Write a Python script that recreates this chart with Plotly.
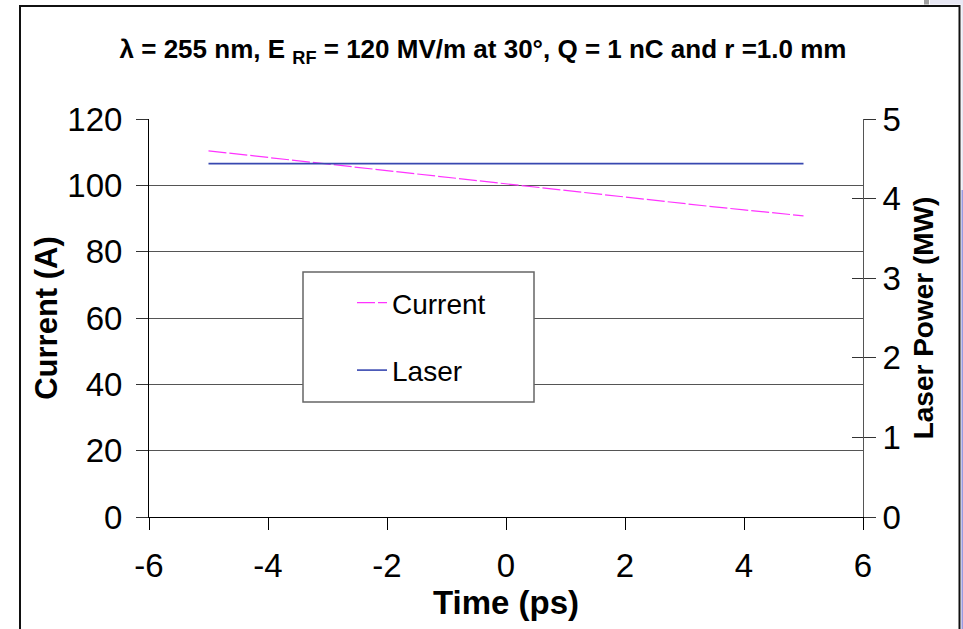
import plotly.graph_objects as go

# ---- data ----
time_ps = [-5, -4.5, -4, -3.5, -3, -2.5, -2, -1.5, -1, -0.5, 0,
           0.5, 1, 1.5, 2, 2.5, 3, 3.5, 4, 4.5, 5]
current_A = [110.4, 109.4, 108.5, 107.5, 106.5, 105.5, 104.4, 103.4, 102.4, 101.3, 100.3,
             99.3, 98.3, 97.3, 96.4, 95.4, 94.4, 93.5, 92.6, 91.7, 90.8]
laser_time = [-5, 5]
laser_MW = [4.44, 4.44]

x_ticks = [-6, -4, -2, 0, 2, 4, 6]
x_ticktext = ["-6", "-4", "-2", "0", "2", "4", "6"]
y_ticks = [0, 20, 40, 60, 80, 100, 120]
y2_ticks = [0, 1, 2, 3, 4, 5]

W, H = 963, 629
L, R, T, B = 149, 863, 119, 517


def px(x):
    return (x - L) / (R - L)


def py(y):
    return (B - y) / (B - T)


FONT = "Liberation Sans, Arial, sans-serif"

fig = go.Figure()
fig.add_trace(go.Scatter(x=time_ps, y=current_A, mode="lines", name="Current",
                         line=dict(color="#FF33FF", width=1.2, dash="18px,3px"),
                         yaxis="y"))
fig.add_trace(go.Scatter(x=laser_time, y=laser_MW, mode="lines", name="Laser",
                         line=dict(color="#3848B0", width=1.6), yaxis="y2",
                         legendgroup="b"))
fig.add_trace(go.Scatter(x=[None], y=[None], yaxis="y3", showlegend=False))

fig.update_layout(
    width=W, height=H,
    margin=dict(l=L, r=W - R, t=T, b=H - B, autoexpand=False),
    paper_bgcolor="white", plot_bgcolor="white",
    font=dict(family=FONT, color="black", size=30),
    showlegend=True,
    legend=dict(x=px(352), y=py(278), xanchor="left", yanchor="top",
                bgcolor="rgba(0,0,0,0)", borderwidth=0,
                font=dict(size=28), tracegroupgap=28),
    xaxis=dict(range=[-6, 6], tickvals=x_ticks, ticktext=x_ticktext,
               ticks="outside", ticklen=12, tickcolor="black",
               showline=True, linecolor="black", linewidth=1,
               showgrid=False, zeroline=False, tickfont=dict(size=33),
               ticklabelstandoff=7,
               title=dict(text="<b>Time (ps)</b>", font=dict(size=33), standoff=0)),
    yaxis=dict(range=[0, 120], tickvals=y_ticks, ticks="outside", ticklen=12,
               tickcolor="#333", showline=True, linecolor="black", linewidth=1,
               showgrid=True, gridcolor="#555", gridwidth=1, zeroline=False,
               tickfont=dict(size=33), ticklabelstandoff=7,
               title=dict(text="<b>Current (A)</b>", font=dict(size=31), standoff=0)),
    yaxis2=dict(range=[0, 5], tickvals=y2_ticks, ticks="outside", ticklen=12,
                tickcolor="#333", overlaying="y", side="right", anchor="x",
                showline=True, linecolor="#555", linewidth=1, showgrid=False,
                zeroline=False, tickfont=dict(size=33),
                title=dict(text="<b>Laser Power (MW)</b>", font=dict(size=28), standoff=13)),
    yaxis3=dict(range=[0, 5], tickvals=y2_ticks, ticks="inside", ticklen=11,
                tickcolor="#333", overlaying="y", side="right", anchor="x",
                showline=False, showgrid=False, zeroline=False, showticklabels=False),
    title=dict(text="<b>λ = 255 nm, E <sub>RF</sub> = 120 MV/m at 30°, Q = 1 nC and r =1.0 mm</b>",
               x=px(483), xref="paper", xanchor="center", y=1 - 49 / H, yanchor="middle",
               font=dict(size=26)),
    shapes=[
        # legend box
        dict(type="rect", xref="paper", yref="paper", x0=px(303), x1=px(534),
             y0=py(402), y1=py(272), line=dict(color="#666", width=1.5),
             fillcolor="white", layer="above"),
        # outer frame
        dict(type="rect", xref="paper", yref="paper", x0=px(20), x1=px(959.5),
             y0=py(640), y1=py(6), line=dict(color="#111", width=2),
             fillcolor="rgba(0,0,0,0)", layer="above"),
        # right edge strip
        dict(type="rect", xref="paper", yref="paper", x0=px(961.5), x1=px(970),
             y0=py(640), y1=py(-5), line=dict(width=0),
             fillcolor="#E8E8F4", layer="above"),
        dict(type="rect", xref="paper", yref="paper", x0=px(961.5), x1=px(963),
             y0=py(640), y1=py(190), line=dict(width=0),
             fillcolor="#9A9AE0", layer="above"),
        dict(type="rect", xref="paper", yref="paper", x0=px(930), x1=px(970),
             y0=py(4.5), y1=py(-5), line=dict(width=0),
             fillcolor="#E8E8F4", layer="above"),
        dict(type="rect", xref="paper", yref="paper", x0=px(924), x1=px(929),
             y0=py(4.5), y1=py(-5), line=dict(width=0),
             fillcolor="#A0A0A0", layer="above"),
    ],
)

fig.write_html("out.html", config={"displayModeBar": False},
               post_script="document.body.style.margin='0px';"
                           "document.body.style.overflow='hidden';")
